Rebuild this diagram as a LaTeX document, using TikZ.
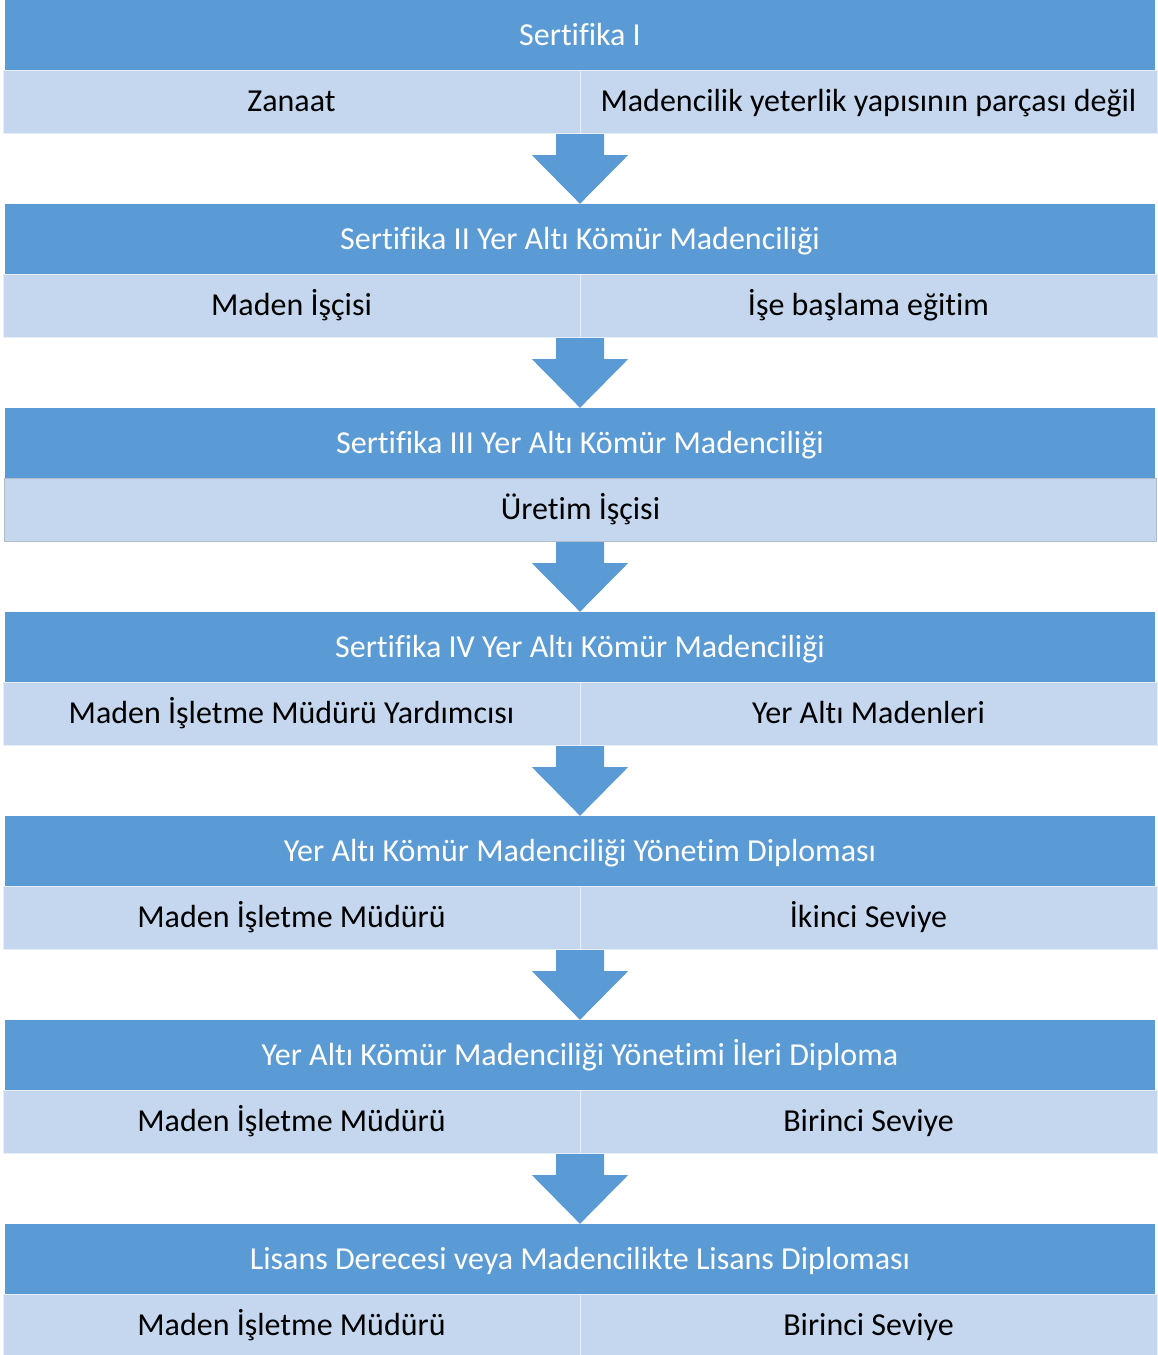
\documentclass[tikz,border=0pt]{standalone}
\usepackage{fontspec}
\setmainfont{Carlito}[Ligatures=NoCommon]
\usetikzlibrary{calc}
\definecolor{headblue}{HTML}{5B9BD5}
\definecolor{cellblue}{HTML}{C5D7EE}
\begin{document}
\begin{tikzpicture}[x=1pt,y=-1pt,
  boxtext/.style={font=\fontsize{32}{38}\selectfont, text height=20.5pt, text depth=0pt},
  headbox/.style={boxtext, fill=headblue, draw=none, minimum width=1150pt, minimum height=70pt,
    inner sep=0pt, text=white},
  cellbox/.style={boxtext, fill=cellblue, draw=white!55!cellblue, line width=1pt,
    minimum height=63pt, inner sep=0pt, text=black},
  halfcell/.style={cellbox, minimum width=577pt},
  fullcell/.style={cellbox, minimum width=1152pt},
  flowarrow/.style={fill=headblue, draw=none}]
\useasboundingbox (0,0) rectangle (1157,1355);

% header bands
\foreach \k/\txt in {1/Sertifika I,
  2/Sertifika II Yer Altı Kömür Madenciliği,
  3/Sertifika III Yer Altı Kömür Madenciliği,
  4/Sertifika IV Yer Altı Kömür Madenciliği,
  5/Yer Altı Kömür Madenciliği Yönetim Diploması,
  6/Yer Altı Kömür Madenciliği Yönetimi İleri Diploma,
  7/Lisans Derecesi veya Madencilikte Lisans Diploması}
  \node[headbox] (h\k) at (580, {35+204*(\k-1)}) {\txt};

% two-column rows
\foreach \k/\lt/\rt in {1/Zanaat/Madencilik yeterlik yapısının parçası değil,
  2/Maden İşçisi/İşe başlama eğitim,
  4/Maden İşletme Müdürü Yardımcısı/Yer Altı Madenleri,
  5/Maden İşletme Müdürü/İkinci Seviye,
  6/Maden İşletme Müdürü/Birinci Seviye,
  7/Maden İşletme Müdürü/Birinci Seviye}{
  \node[halfcell] (l\k) at (291.5, {101.5+204*(\k-1)}) {\lt};
  \node[halfcell] (r\k) at (868.5, {101.5+204*(\k-1)}) {\rt};
}

% single-column row
\node[fullcell, draw=gray!30!cellblue] (l3) at (580.5, {101.5+204*2}) {Üretim İşçisi};

% block arrows between stages
\foreach \k/\j in {1/2,2/3,3/4,4/5,5/6,6/7}
  \fill[flowarrow] ($(h\k.south)+(-24,64)$) -- ($(h\k.south)+(24,64)$)
    -- ($(h\k.south)+(24,85)$) -- ($(h\k.south)+(48,85)$) -- (h\j.north)
    -- ($(h\k.south)+(-48,85)$) -- ($(h\k.south)+(-24,85)$) -- cycle;
\end{tikzpicture}
\end{document}
